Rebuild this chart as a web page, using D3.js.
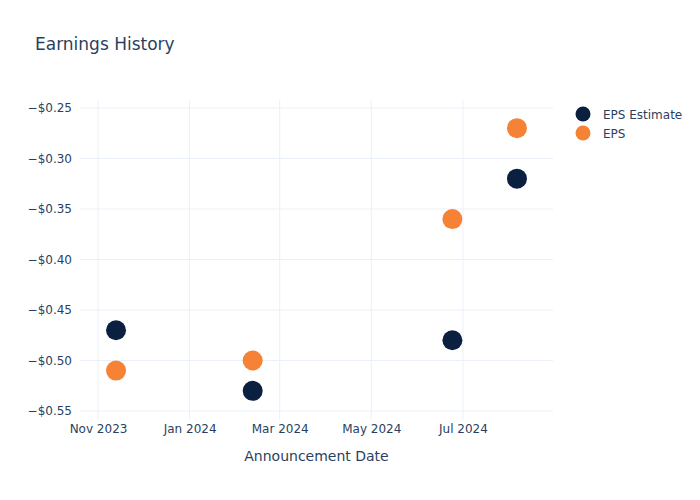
<!DOCTYPE html>
<html>
<head>
<meta charset="utf-8">
<script src="https://cdn.jsdelivr.net/npm/d3@7"></script>
<style>
  body { margin: 0; background: #fff; }
  svg { font-family: "DejaVu Sans", Verdana, sans-serif; }
</style>
</head>
<body>
<svg id="chart" width="700" height="500"></svg>
<script>
const dates = ["2023-11-13", "2024-02-12", "2024-06-24", "2024-08-06"];
const epsEstimate = [-0.47, -0.53, -0.48, -0.32];
const epsActual = [-0.51, -0.50, -0.36, -0.27];
const yTicks = [-0.55, -0.50, -0.45, -0.40, -0.35, -0.30, -0.25];
const xTicks = ["2023-11-01", "2024-01-01", "2024-03-01", "2024-05-01", "2024-07-01"];
const seriesNames = ["EPS Estimate", "EPS"];
const colors = ["#0B1F41", "#F68236"];

const parse = d3.utcParse("%Y-%m-%d");
const svg = d3.select("#chart");
const margin = {left: 80, right: 147, top: 100, bottom: 80};
const W = 700, H = 500;

const x = d3.scaleUtc()
  .domain([parse("2023-10-20"), parse("2024-08-30")])
  .range([margin.left, W - margin.right]);
const y = d3.scaleLinear()
  .domain([-0.5589, -0.2421])
  .range([H - margin.bottom, margin.top]);

const textColor = "#2a3f5f";
const gridColor = "#EBF0F8";

// gridlines
svg.append("g").selectAll("line").data(yTicks).join("line")
  .attr("x1", margin.left).attr("x2", W - margin.right)
  .attr("y1", d => y(d)).attr("y2", d => y(d))
  .attr("stroke", gridColor).attr("stroke-width", 1);
svg.append("g").selectAll("line").data(xTicks).join("line")
  .attr("x1", d => x(parse(d))).attr("x2", d => x(parse(d)))
  .attr("y1", margin.top).attr("y2", H - margin.bottom)
  .attr("stroke", gridColor).attr("stroke-width", 1);

// axes
const fmtY = d => "\u2212$" + Math.abs(d).toFixed(2);
const yAxis = d3.axisLeft(y).tickValues(yTicks).tickFormat(fmtY).tickSize(0).tickPadding(8);
const gy = svg.append("g").attr("transform", `translate(${margin.left},0)`).call(yAxis);
gy.select(".domain").remove();
gy.selectAll("text").attr("fill", textColor).attr("font-size", 12)
  .attr("font-family", '"DejaVu Sans", Verdana, sans-serif');

const fmtX = d3.utcFormat("%b %Y");
const xAxis = d3.axisBottom(x).tickValues(xTicks.map(parse)).tickFormat(fmtX).tickSize(0).tickPadding(4);
const gx = svg.append("g").attr("transform", `translate(0,${H - margin.bottom})`).call(xAxis);
gx.select(".domain").remove();
gx.selectAll("text").attr("fill", textColor).attr("font-size", 12)
  .attr("font-family", '"DejaVu Sans", Verdana, sans-serif');

// axis title
svg.append("text")
  .attr("x", (margin.left + W - margin.right) / 2).attr("y", 461)
  .attr("text-anchor", "middle").attr("fill", textColor).attr("font-size", 14)
  .text("Announcement Date");

// title
svg.append("text")
  .attr("x", 35).attr("y", 50)
  .attr("fill", textColor).attr("font-size", 17)
  .text("Earnings History");

// points
const series = [epsEstimate, epsActual];
series.forEach((vals, i) => {
  svg.append("g").selectAll("circle").data(vals).join("circle")
    .attr("cx", (d, j) => x(parse(dates[j])))
    .attr("cy", d => y(d))
    .attr("r", 10)
    .attr("fill", colors[i]);
});

// legend
const leg = svg.append("g");
seriesNames.forEach((name, i) => {
  leg.append("circle").attr("cx", 583).attr("cy", 114 + i * 19).attr("r", 7.5).attr("fill", colors[i]);
  leg.append("text").attr("x", 603).attr("y", 118.5 + i * 19)
    .attr("fill", textColor).attr("font-size", 12).text(name);
});
</script>
</body>
</html>
